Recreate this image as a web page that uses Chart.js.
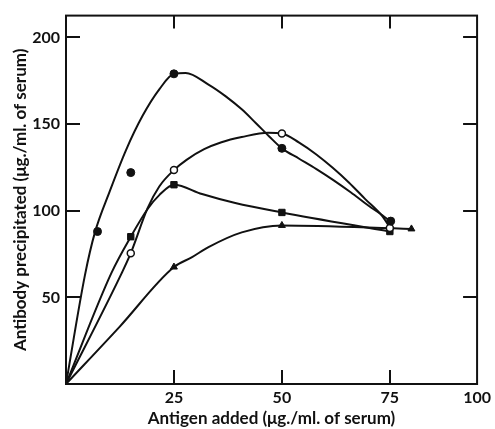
<!DOCTYPE html>
<html>
<head>
<meta charset="utf-8">
<script src="https://cdn.jsdelivr.net/npm/chart.js@4/dist/chart.umd.min.js"></script>
<style>
  html, body { margin: 0; padding: 0; background: #fff; }
  #wrap { width: 495px; height: 429px; }
</style>
</head>
<body>
<div id="wrap"><canvas id="c" width="495" height="429"></canvas></div>
<script>
// ---- Data ----
const xTicks = [25, 50, 75];
const xEdgeLabel = '100';
const yTicks = [50, 100, 150, 200];

// Filled circles
const fcX = [7.3, 15, 25, 50, 75.2];
const fcY = [88, 122, 179, 136, 94];
// Open circles
const ocX = [15, 25, 50, 75];
const ocY = [75.5, 123.5, 144.6, 90];
// Filled squares
const sqX = [15, 25, 50, 75];
const sqY = [85, 115, 99, 88];
// Filled triangles
const trX = [25, 50, 80];
const trY = [67.5, 91.5, 89.5];

// Drawn curves
const fcCurveX = [0, 4.4, 6.7, 10.1, 13.9, 17.7, 21.6, 25, 27.7, 33, 37, 40.7, 44, 47, 50, 54, 58, 62, 66, 70, 73.2, 75];
const fcCurveY = [0, 63, 87.5, 111, 135, 154.6, 170, 179, 179.5, 172.8, 166, 158.5, 150.5, 143, 136, 130, 124, 117.5, 110.5, 103, 97.5, 94];
const ocCurveX = [0, 12.9, 15, 18.9, 21.6, 25, 28, 32, 36, 40.7, 46.8, 50, 54, 57.9, 61.7, 65.5, 69.3, 73.2, 75];
const ocCurveY = [0, 64, 75.5, 101.5, 114, 123.5, 129.5, 135.5, 139.5, 142.5, 145, 144.6, 139.3, 132.6, 124.9, 116.3, 106.7, 97, 90.4];
const sqCurveX = [0, 10.5, 15, 18.9, 21.6, 25, 31.5, 39.2, 50, 75];
const sqCurveY = [0, 64, 85, 101, 109, 115, 109.6, 104.4, 99, 88];
const trCurveX = [0, 12.4, 25, 29.2, 33, 40.7, 50, 80];
const trCurveY = [0, 33, 67.5, 73.2, 79, 87.5, 91.5, 89.5];

const xMax = 95.2;
const yMax = 212.6;

function pts(xs, ys) { return xs.map((x, i) => ({ x: x, y: ys[i] })); }

function curve(xs, ys) {
  return {
    data: pts(xs, ys), showLine: true, pointRadius: 0, pointHoverRadius: 0,
    borderColor: '#111', borderWidth: 2, cubicInterpolationMode: 'monotone', fill: false, order: 2
  };
}
function marks(xs, ys, style, bg, r, bw) {
  return {
    data: pts(xs, ys), showLine: false, pointStyle: style, pointRadius: r,
    backgroundColor: bg, borderColor: '#111', borderWidth: bw, order: 0
  };
}

const frame = {
  id: 'frame',
  afterDraw(chart) {
    const ctx = chart.ctx, a = chart.chartArea;
    const xs = chart.scales.x, ys = chart.scales.y;
    ctx.save();
    ctx.strokeStyle = '#111';
    ctx.lineWidth = 2;
    ctx.strokeRect(a.left, a.top, a.right - a.left, a.bottom - a.top);
    ctx.beginPath();
    xTicks.forEach(v => {
      const px = Math.round(xs.getPixelForValue(v));
      ctx.moveTo(px, a.bottom); ctx.lineTo(px, a.bottom - 14);
      ctx.moveTo(px, a.top); ctx.lineTo(px, a.top + 13);
    });
    yTicks.forEach(v => {
      const py = Math.round(ys.getPixelForValue(v));
      ctx.moveTo(a.left, py); ctx.lineTo(a.left + 14, py);
      ctx.moveTo(a.right, py); ctx.lineTo(a.right - 14, py);
    });
    ctx.stroke();
    ctx.restore();
  }
};

new Chart(document.getElementById('c'), {
  type: 'scatter',
  data: {
    datasets: [
      marks(fcX, fcY, 'circle', '#111', 4, 1),
      marks(ocX, ocY, 'circle', '#fff', 3.5, 1.5),
      marks(sqX, sqY, 'rect', '#111', 4.5, 1),
      marks(trX, trY, 'triangle', '#111', 4, 1),
      curve(fcCurveX, fcCurveY),
      curve(ocCurveX, ocCurveY),
      curve(sqCurveX, sqCurveY),
      curve(trCurveX, trCurveY)
    ]
  },
  options: {
    responsive: false,
    animation: false,
    events: [],
    layout: { padding: { left: 0, right: 14, top: 14, bottom: 0 } },
    plugins: { legend: { display: false }, tooltip: { enabled: false } },
    scales: {
      x: {
        type: 'linear', min: 0, max: xMax,
        afterBuildTicks(s) { s.ticks = xTicks.map(v => ({ value: v })).concat([{ value: xMax }]); },
        afterFit(s) { s.height = 45; },
        grid: { display: false, drawTicks: false },
        border: { display: false },
        ticks: {
          padding: 4, color: '#111',
          font: { family: 'Lato', size: 16, weight: 'bold' },
          callback: (v) => (v === xMax ? xEdgeLabel : String(v)),
          maxRotation: 0
        },
        title: {
          display: true, text: 'Antigen added (μg./ml. of serum)', color: '#111',
          font: { family: 'Lato', size: 17, weight: 'bold' },
          padding: { top: 5, bottom: 0 }
        }
      },
      y: {
        type: 'linear', min: 0, max: yMax,
        afterBuildTicks(s) { s.ticks = yTicks.map(v => ({ value: v })); },
        afterFit(s) { s.width = 66; },
        grid: { display: false, drawTicks: false },
        border: { display: false },
        ticks: {
          padding: 6, color: '#111',
          font: { family: 'Lato', size: 16, weight: 'bold' }
        },
        title: {
          display: true, text: 'Antibody precipitated (μg./ml. of serum)', color: '#111',
          font: { family: 'Lato', size: 17, weight: 'bold' },
          padding: { top: 10, bottom: 0 }
        }
      }
    }
  },
  plugins: [frame]
});
</script>
</body>
</html>
